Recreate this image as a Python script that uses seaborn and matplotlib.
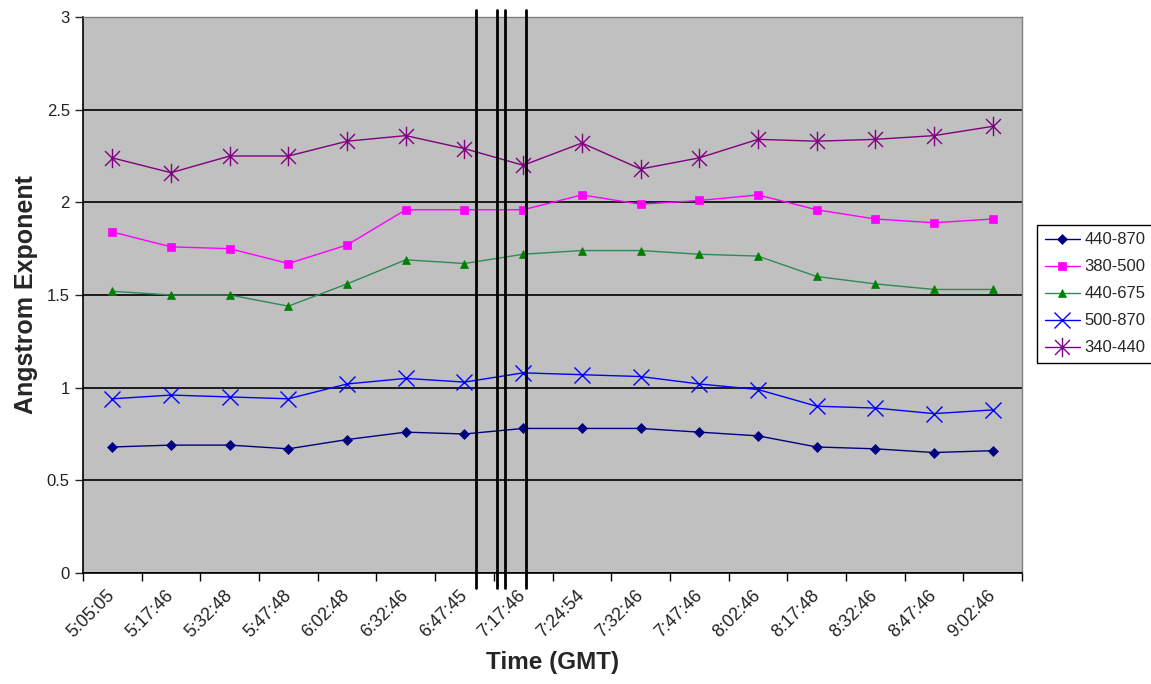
import numpy as np
import pandas as pd
import matplotlib
matplotlib.use('Agg')
import matplotlib.pyplot as plt
import matplotlib.transforms as mtransforms
from matplotlib.path import Path
from matplotlib.ticker import FixedLocator
import seaborn as sns

# Time labels (GMT) and Angstrom exponents for each wavelength pair
times = ['5:05:05', '5:17:46', '5:32:48', '5:47:48', '6:02:48', '6:32:46',
         '6:47:45', '7:17:46', '7:24:54', '7:32:46', '7:47:46', '8:02:46',
         '8:17:48', '8:32:46', '8:47:46', '9:02:46']
ae_440_870 = [0.68, 0.69, 0.69, 0.67, 0.72, 0.76, 0.75, 0.78, 0.78, 0.78,
              0.76, 0.74, 0.68, 0.67, 0.65, 0.66]
ae_380_500 = [1.84, 1.76, 1.75, 1.67, 1.77, 1.96, 1.96, 1.96, 2.04, 1.99,
              2.01, 2.04, 1.96, 1.91, 1.89, 1.91]
ae_440_675 = [1.52, 1.50, 1.50, 1.44, 1.56, 1.69, 1.67, 1.72, 1.74, 1.74,
              1.72, 1.71, 1.60, 1.56, 1.53, 1.53]
ae_500_870 = [0.94, 0.96, 0.95, 0.94, 1.02, 1.05, 1.03, 1.08, 1.07, 1.06,
              1.02, 0.99, 0.90, 0.89, 0.86, 0.88]
ae_340_440 = [2.24, 2.16, 2.25, 2.25, 2.33, 2.36, 2.29, 2.20, 2.32, 2.18,
              2.24, 2.34, 2.33, 2.34, 2.36, 2.41]
series_names = ['440-870', '380-500', '440-675', '500-870', '340-440']
# positions of the vertical event lines, in category units
event_pos = [6.19, 6.55, 6.69, 7.05]

df = pd.DataFrame({
    'idx': np.arange(len(times)),
    '440-870': ae_440_870,
    '380-500': ae_380_500,
    '440-675': ae_440_675,
    '500-870': ae_500_870,
    '340-440': ae_340_440,
})

# Excel style asterisk: X plus a vertical bar
star = Path([(-1, -1), (1, 1), (-1, 1), (1, -1), (0, -1.3), (0, 1.3)],
            [Path.MOVETO, Path.LINETO, Path.MOVETO, Path.LINETO, Path.MOVETO, Path.LINETO])

styles = {
    '440-870': dict(color='#000080', marker='D', ms=5),
    '380-500': dict(color='#FF00FF', marker='s', ms=6),
    '440-675': dict(color='#2E8B57', marker='^', ms=6),
    '500-870': dict(color='#0000FF', marker='x', ms=12),
    '340-440': dict(color='#800080', marker=star, ms=14),
}

sns.set_style('ticks')
plt.rcParams['font.family'] = ['Liberation Sans', 'DejaVu Sans']

fig, ax = plt.subplots(figsize=(11.51, 6.84), dpi=100)
fig.subplots_adjust(left=0.0721, right=0.888, top=0.9751, bottom=0.1623)
ax.set_facecolor('#C0C0C0')

for name in series_names:
    st = styles[name]
    mfc = '#008000' if name == '440-675' else st['color']
    sns.lineplot(data=df, x='idx', y=name, ax=ax, color=st['color'], lw=1,
                 marker=st['marker'], markersize=st['ms'], markerfacecolor=mfc,
                 markeredgecolor=mfc, markeredgewidth=1 if name in ('500-870', '340-440') else 0.5,
                 label=name, zorder=3)

for xv in event_pos:
    ax.axvline(xv, ymin=-0.027, ymax=1.0126, color='black', lw=2, clip_on=False, zorder=4)

ax.set_xlim(-0.5, len(times) - 0.5)
ax.set_ylim(0, 3)
ax.set_yticks(np.arange(0, 3.01, 0.5))
ax.set_yticklabels(['0', '0.5', '1', '1.5', '2', '2.5', '3'])
ax.yaxis.grid(True, color='black', lw=1.2)
ax.set_axisbelow(True)

ax.set_xticks(np.arange(len(times)))
ax.set_xticklabels(times, rotation=45, ha='right', rotation_mode='anchor')
ax.xaxis.set_minor_locator(FixedLocator(np.arange(len(times) + 1) - 0.5))
ax.tick_params(axis='x', which='major', length=0, pad=10, labelsize=12.8, labelcolor='#222222')
ax.tick_params(axis='x', which='minor', length=6, width=1, color='black')
ax.tick_params(axis='y', length=6, width=1, labelsize=12, labelcolor='#222222')
shift = mtransforms.ScaledTranslation(-6 / 100, 0, fig.dpi_scale_trans)
for lab in ax.get_xticklabels():
    lab.set_transform(lab.get_transform() + shift)

for side in ['left', 'bottom']:
    ax.spines[side].set_color('black')
    ax.spines[side].set_linewidth(1.2)
for side in ['right', 'top']:
    ax.spines[side].set_visible(True)
    ax.spines[side].set_color('#808080')
    ax.spines[side].set_linewidth(1)

ax.set_xlabel('Time (GMT)', fontsize=17.5, fontweight='bold', labelpad=7)
ax.set_ylabel('Angstrom Exponent', fontsize=18, fontweight='bold', labelpad=6)

leg = ax.legend(loc='center left', bbox_to_anchor=(1.016, 0.502), borderaxespad=0,
                fontsize=12, frameon=True, fancybox=False, framealpha=1,
                edgecolor='black', handlelength=2.1, handletextpad=0.3,
                labelspacing=0.72, borderpad=0.45)
leg.get_frame().set_linewidth(1)

fig.savefig('out.png', dpi=100)
